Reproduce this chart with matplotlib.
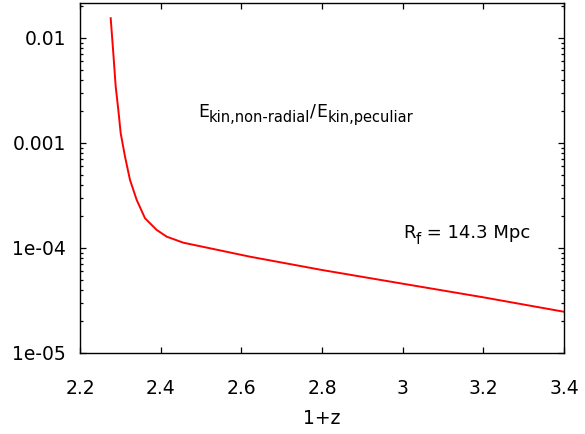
import matplotlib
matplotlib.use("Agg")
import matplotlib.pyplot as plt
from matplotlib.ticker import LogLocator, FixedLocator, NullFormatter
from matplotlib.transforms import IdentityTransform

plt.rcParams['font.family'] = ['DejaVu Sans']

# data
one_plus_z = [2.2761, 2.2826, 2.2885, 2.2950, 2.3009, 2.3116, 2.3240, 2.3406,
              2.3612, 2.3902, 2.4150, 2.4561, 2.5223, 2.6215, 2.8000, 3.0000,
              3.2000, 3.4000]
ratio = [1.540e-2, 7.15e-3, 3.44e-3, 2.062e-3, 1.237e-3, 7.41e-4, 4.44e-4, 2.865e-4,
         1.918e-4, 1.484e-4, 1.281e-4, 1.123e-4, 9.93e-5, 8.26e-5, 6.17e-5, 4.57e-5,
         3.39e-5, 2.47e-5]

x_ticks = [2.2, 2.4, 2.6, 2.8, 3.0, 3.2, 3.4]
x_tick_labels = ['2.2', '2.4', '2.6', '2.8', '3', '3.2', '3.4']
y_ticks = [1e-5, 1e-4, 1e-3, 1e-2]
y_tick_labels = ['1e-05', '1e-04', '0.001', '0.01']

W, H = 585, 434
fig = plt.figure(figsize=(W / 100, H / 100), dpi=100)
ax = fig.add_axes([80 / W, 1 - 353 / H, (564 - 80) / W, (353 - 3) / H])

ax.plot(one_plus_z, ratio, color='#ff0000', lw=1.4)
ax.set_yscale('log')
ax.set_xlim(2.2, 3.4)
ax.set_ylim(1e-5, 0.0215)

ax.xaxis.set_major_locator(FixedLocator(x_ticks))
ax.set_xticklabels(x_tick_labels)
ax.yaxis.set_major_locator(FixedLocator(y_ticks))
ax.set_yticklabels(y_tick_labels)
ax.yaxis.set_minor_locator(LogLocator(base=10, subs=range(2, 10)))
ax.yaxis.set_minor_formatter(NullFormatter())

ax.tick_params(which='both', direction='in', top=True, right=True,
               labelsize=13.5, width=0.9, colors='black')
ax.tick_params(which='major', length=4.5)
ax.tick_params(which='minor', length=2.4)
ax.tick_params(axis='x', which='major', pad=18.5)
ax.tick_params(axis='y', which='major', pad=10)
for s in ax.spines.values():
    s.set_linewidth(1.0)

ax.set_xlabel('1+z', fontsize=13.5, labelpad=8)

renderer = fig.canvas.get_renderer()


def compose(x0, base_y, pieces):
    x = x0
    for s, size, dy in pieces:
        t = fig.text(x, base_y + dy, s, fontsize=size, ha='left', va='baseline',
                     transform=IdentityTransform())
        x += t.get_window_extent(renderer).width


compose(198, H - 116.7, [('E', 12.5, 0), ('kin,non-radial', 10.5, -5.7),
                         ('/', 12.5, 0), ('E', 12.5, 0), ('kin,peculiar', 10.5, -5.7)])
compose(403, H - 238.3, [('R', 13, 0), ('f', 10.5, -6), (' = 14.3 Mpc', 13, 0)])

fig.savefig('out.png', dpi=100)
